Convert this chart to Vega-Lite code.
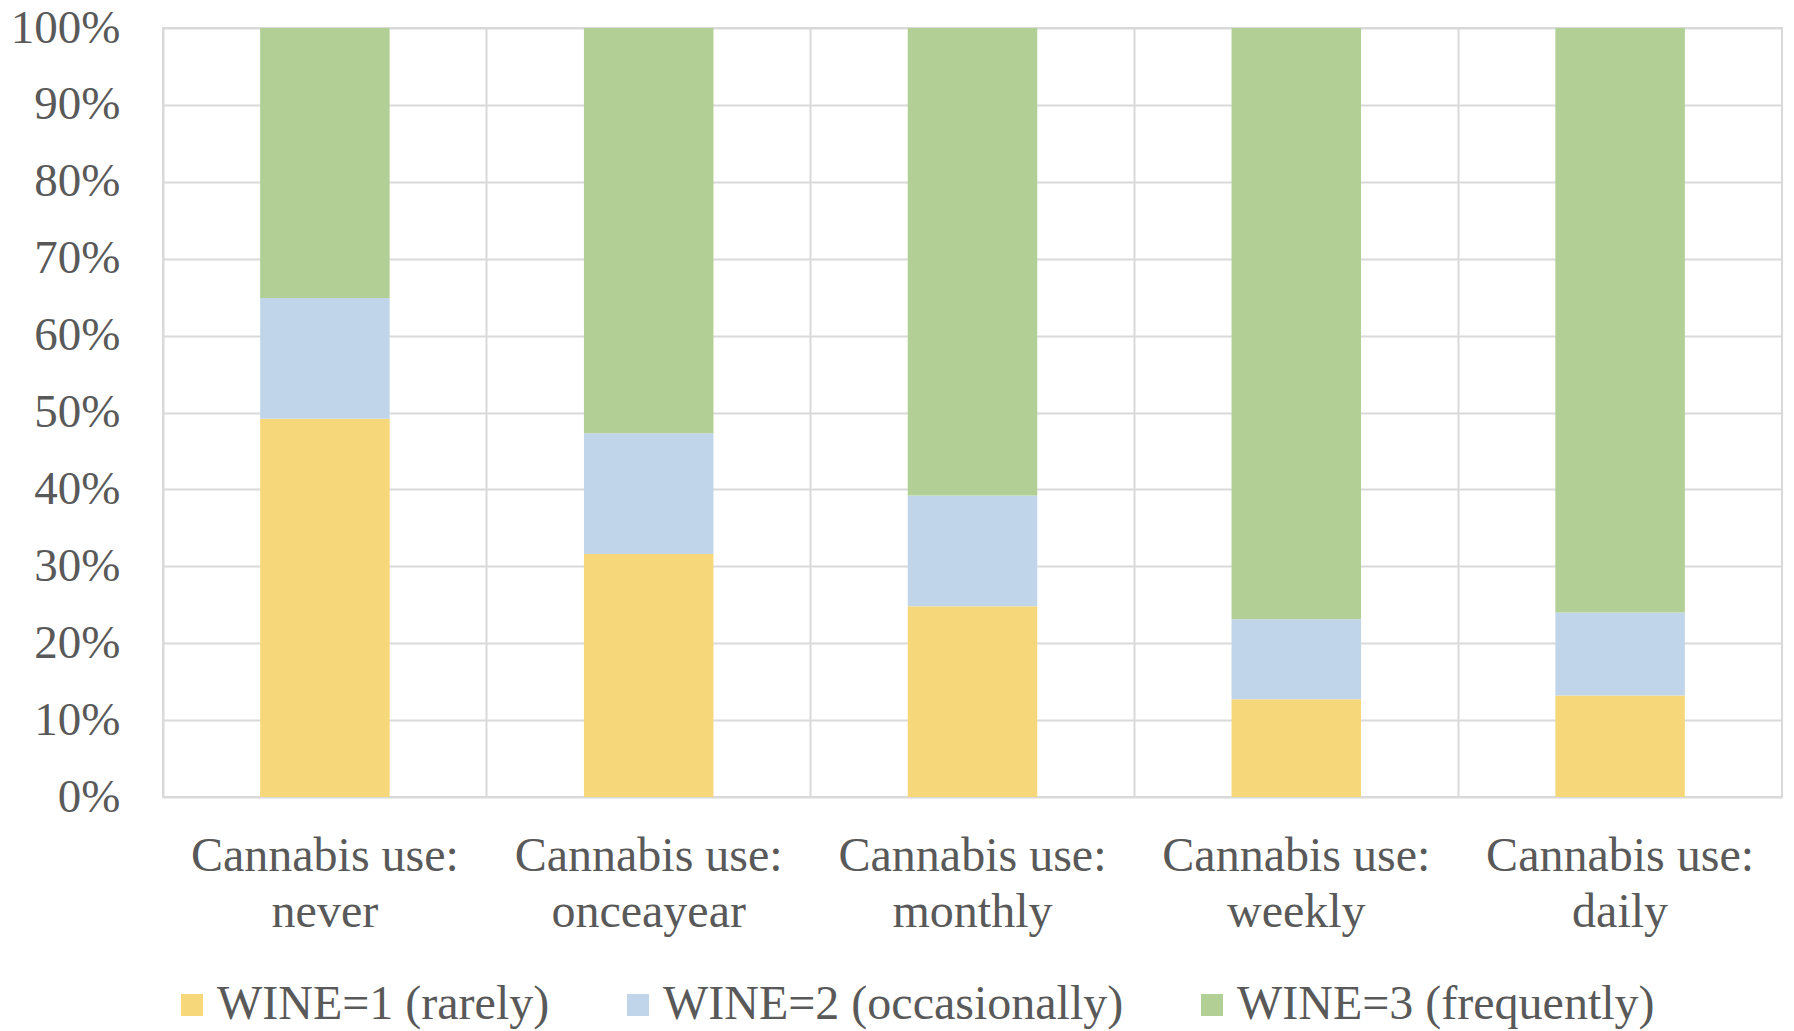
{
  "$schema": "https://vega.github.io/schema/vega-lite/v6.json",
  "autosize": {"type": "none"},
  "padding": {"left": 163, "top": 28, "right": 12, "bottom": 234},
  "width": 1619,
  "height": 769,
  "background": "white",
  "config": {
    "view": {"stroke": "#D9D9D9", "strokeWidth": 2},
    "font": "Liberation Serif",
    "axis": {
      "labelFont": "Liberation Serif",
      "labelColor": "#595959",
      "gridColor": "#D9D9D9",
      "gridWidth": 2,
      "ticks": false,
      "domain": false
    }
  },
  "data": {
    "values": [
      {"use": "Cannabis use: never", "wine": "WINE=1 (rarely)", "k": 1, "share": 0.492},
      {"use": "Cannabis use: never", "wine": "WINE=2 (occasionally)", "k": 2, "share": 0.157},
      {"use": "Cannabis use: never", "wine": "WINE=3 (frequently)", "k": 3, "share": 0.351},
      {"use": "Cannabis use: onceayear", "wine": "WINE=1 (rarely)", "k": 1, "share": 0.316},
      {"use": "Cannabis use: onceayear", "wine": "WINE=2 (occasionally)", "k": 2, "share": 0.157},
      {"use": "Cannabis use: onceayear", "wine": "WINE=3 (frequently)", "k": 3, "share": 0.527},
      {"use": "Cannabis use: monthly", "wine": "WINE=1 (rarely)", "k": 1, "share": 0.248},
      {"use": "Cannabis use: monthly", "wine": "WINE=2 (occasionally)", "k": 2, "share": 0.144},
      {"use": "Cannabis use: monthly", "wine": "WINE=3 (frequently)", "k": 3, "share": 0.608},
      {"use": "Cannabis use: weekly", "wine": "WINE=1 (rarely)", "k": 1, "share": 0.127},
      {"use": "Cannabis use: weekly", "wine": "WINE=2 (occasionally)", "k": 2, "share": 0.104},
      {"use": "Cannabis use: weekly", "wine": "WINE=3 (frequently)", "k": 3, "share": 0.769},
      {"use": "Cannabis use: daily", "wine": "WINE=1 (rarely)", "k": 1, "share": 0.132},
      {"use": "Cannabis use: daily", "wine": "WINE=2 (occasionally)", "k": 2, "share": 0.108},
      {"use": "Cannabis use: daily", "wine": "WINE=3 (frequently)", "k": 3, "share": 0.760}
    ]
  },
  "mark": {"type": "bar", "width": {"band": 0.4}},
  "encoding": {
    "x": {
      "field": "use",
      "type": "nominal",
      "sort": null,
      "scale": {"paddingInner": 0, "paddingOuter": 0},
      "axis": {
        "title": null,
        "labelAngle": 0,
        "labelFontSize": 48,
        "labelPadding": 35,
        "labelLineHeight": 56,
        "labelLimit": 400,
        "grid": true,
        "bandPosition": 0,
        "labelExpr": "[split(datum.label, ': ')[0] + ':', split(datum.label, ': ')[1]]"
      }
    },
    "y": {
      "field": "share",
      "type": "quantitative",
      "stack": "zero",
      "scale": {"domain": [0, 1], "nice": false},
      "axis": {
        "title": null,
        "format": ".0%",
        "values": [0, 0.1, 0.2, 0.3, 0.4, 0.5, 0.6, 0.7, 0.8, 0.9, 1],
        "labelFontSize": 47,
        "labelPadding": 43
      }
    },
    "color": {
      "field": "wine",
      "type": "nominal",
      "scale": {
        "domain": ["WINE=1 (rarely)", "WINE=2 (occasionally)", "WINE=3 (frequently)"],
        "range": ["#F6D87A", "#C1D5EA", "#B2D095"]
      },
      "legend": {
        "title": null,
        "orient": "none",
        "direction": "horizontal",
        "legendX": 5,
        "legendY": 953,
        "symbolType": "square",
        "symbolSize": 484,
        "symbolStrokeWidth": 0,
        "labelFontSize": 48,
        "labelFont": "Liberation Serif",
        "labelColor": "#595959",
        "labelOffset": 1,
        "labelLimit": 600,
        "columnPadding": 64
      }
    },
    "order": {"field": "k", "type": "quantitative", "sort": "ascending"}
  }
}
